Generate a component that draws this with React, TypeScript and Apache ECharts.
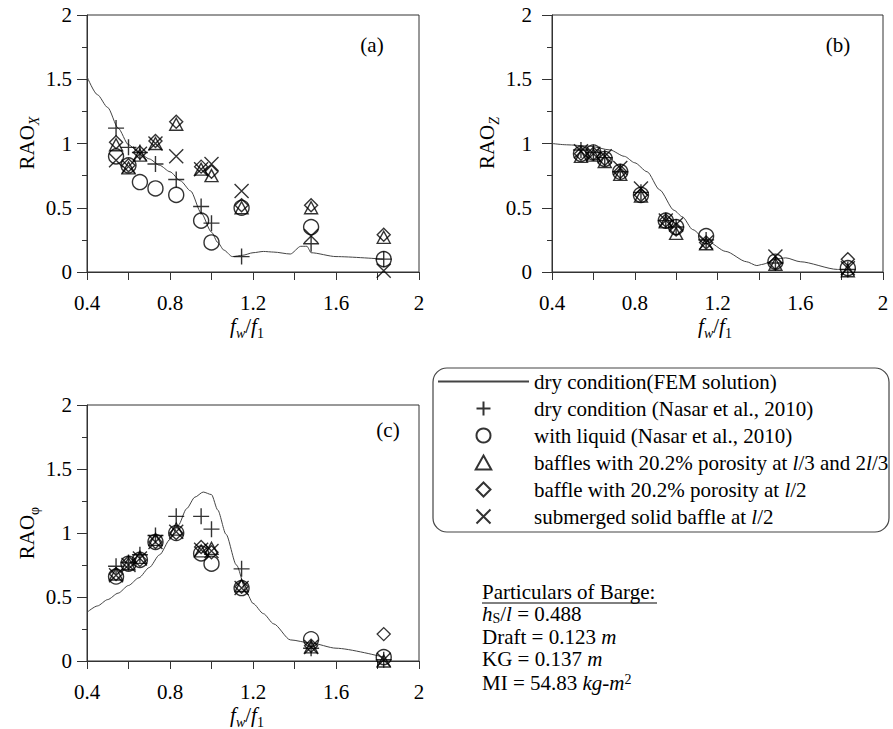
import React, { useEffect, useRef } from 'react';
import * as echarts from 'echarts';

const FONT = "'Liberation Serif', 'Times New Roman', Times, serif";

// ---------- data ----------
const seriesNames = [
  'dry condition(FEM solution)',
  'dry condition (Nasar et al., 2010)',
  'with liquid (Nasar et al., 2010)',
  'baffles with 20.2% porosity at l/3 and 2l/3',
  'baffle with 20.2% porosity at l/2',
  'submerged solid baffle at l/2',
];

const freqRatio = [0.54, 0.6, 0.655, 0.73, 0.83, 0.95, 1.0, 1.145, 1.48, 1.83];

// (a) RAO_X
const femAx = [0.4, 0.45, 0.5, 0.55, 0.6, 0.65, 0.7, 0.75, 0.8, 0.85, 0.9, 0.95, 1.0, 1.03, 1.06, 1.1, 1.15, 1.2, 1.25, 1.3, 1.38, 1.43, 1.46, 1.48, 1.6, 1.83];
const femAy = [1.52, 1.38, 1.28, 1.12, 0.99, 0.93, 0.88, 0.83, 0.78, 0.71, 0.63, 0.46, 0.31, 0.23, 0.17, 0.12, 0.13, 0.15, 0.16, 0.155, 0.14, 0.2, 0.2, 0.15, 0.12, 0.1];
const dryA = [1.12, 0.97, 0.93, 0.84, 0.72, 0.51, 0.38, 0.12, 0.22, 0.1];
const liquidA = [0.9, 0.83, 0.7, 0.65, 0.6, 0.4, 0.23, 0.5, 0.35, 0.1];
const bafflesA = [0.99, 0.81, 0.91, 1.0, 1.15, 0.8, 0.75, 0.5, 0.5, 0.27];
const baffleHalfA = [1.01, 0.83, 0.93, 1.02, 1.17, 0.82, 0.78, 0.52, 0.52, 0.29];
const submergedA = [0.87, 0.82, 0.92, 1.0, 0.9, 0.8, 0.84, 0.63, 0.28, 0.01];

// (b) RAO_Z
const femBx = [0.4, 0.47, 0.58, 0.68, 0.75, 0.8, 0.86, 0.92, 0.99, 1.03, 1.08, 1.15, 1.24, 1.34, 1.39, 1.42, 1.48, 1.53, 1.6, 1.78, 1.83];
const femBy = [1.0, 0.99, 0.98, 0.95, 0.9, 0.85, 0.78, 0.64, 0.48, 0.43, 0.33, 0.24, 0.16, 0.08, 0.05, 0.06, 0.1, 0.11, 0.08, 0.02, 0.02];
const dryB = [0.95, 0.93, 0.89, 0.78, 0.62, 0.4, 0.35, 0.25, 0.07, 0.02];
const liquidB = [0.92, 0.93, 0.88, 0.78, 0.6, 0.4, 0.35, 0.28, 0.08, 0.03];
const bafflesB = [0.9, 0.91, 0.86, 0.76, 0.59, 0.39, 0.3, 0.22, 0.06, 0.01];
const baffleHalfB = [0.92, 0.92, 0.88, 0.78, 0.6, 0.4, 0.33, 0.23, 0.07, 0.1];
const submergedB = [0.94, 0.92, 0.9, 0.81, 0.65, 0.4, 0.37, 0.23, 0.12, 0.03];

// (c) RAO_phi
const femCx = [0.4, 0.45, 0.5, 0.55, 0.6, 0.65, 0.7, 0.75, 0.8, 0.84, 0.88, 0.92, 0.96, 1.0, 1.03, 1.07, 1.12, 1.17, 1.2, 1.25, 1.3, 1.38, 1.48, 1.6, 1.83];
const femCy = [0.38, 0.43, 0.48, 0.53, 0.59, 0.65, 0.73, 0.83, 0.95, 1.06, 1.19, 1.28, 1.32, 1.3, 1.18, 0.99, 0.75, 0.53, 0.45, 0.37, 0.29, 0.165, 0.14, 0.1, 0.03];
const dryC = [0.74, 0.77, 0.83, 0.98, 1.13, 1.13, 1.03, 0.72, 0.1, 0.01];
const liquidC = [0.66, 0.76, 0.79, 0.93, 1.0, 0.84, 0.76, 0.57, 0.17, 0.03];
const bafflesC = [0.68, 0.76, 0.81, 0.95, 1.03, 0.86, 0.88, 0.59, 0.11, 0.0];
const baffleHalfC = [0.68, 0.77, 0.79, 0.93, 1.0, 0.89, 0.85, 0.58, 0.12, 0.21];
const submergedC = [0.67, 0.75, 0.8, 0.93, 1.01, 0.87, 0.86, 0.57, 0.11, 0.01];

const xTicks = [0.4, 0.8, 1.2, 1.6, 2];
const yTicks = [0, 0.5, 1, 1.5, 2];

// ---------- styling ----------
const SYM_PLUS = 'path://M0,5L10,5M5,0L5,10';
const SYM_CROSS = 'path://M0,0L10,10M0,10L10,0';
const SYM_TRI = 'path://M5,0L10,9L0,9Z';
const SYM_DIAMOND = 'path://M5,0L10,5L5,10L0,5Z';
const markerSpecs = [
  { symbol: SYM_PLUS, size: 16 },
  { symbol: 'circle', size: 15 },
  { symbol: SYM_TRI, size: [13, 12] },
  { symbol: SYM_DIAMOND, size: 13 },
  { symbol: SYM_CROSS, size: 14 },
];

const grids = [
  { left: 87, top: 15, width: 332, height: 257 },
  { left: 552, top: 15, width: 331, height: 257 },
  { left: 87, top: 405, width: 332, height: 256 },
];
const yLabelMargins = [15, 20, 15];

const panels = [
  { fem: [femAx, femAy], pts: [dryA, liquidA, bafflesA, baffleHalfA, submergedA] },
  { fem: [femBx, femBy], pts: [dryB, liquidB, bafflesB, baffleHalfB, submergedB] },
  { fem: [femCx, femCy], pts: [dryC, liquidC, bafflesC, baffleHalfC, submergedC] },
];

function makeRich(lh: number) {
  return {
    n: { fontFamily: FONT, fontSize: 21, lineHeight: lh, verticalAlign: 'middle', fill: '#000' },
    i: { fontFamily: FONT, fontSize: 21, lineHeight: lh, verticalAlign: 'middle', fontStyle: 'italic', fill: '#000' },
    s: { fontFamily: FONT, fontSize: 14, lineHeight: lh, verticalAlign: 'bottom', fill: '#000' },
    si: { fontFamily: FONT, fontSize: 14, lineHeight: lh, verticalAlign: 'bottom', fontStyle: 'italic', fill: '#000' },
    sup: { fontFamily: FONT, fontSize: 14, lineHeight: lh, verticalAlign: 'top', fill: '#000' },
  };
}

function buildOption() {
  const xAxis = grids.map((_, i) => ({
    type: 'value',
    gridIndex: i,
    min: xTicks[0],
    max: xTicks[xTicks.length - 1],
    interval: 0.4,
    axisLine: { show: true, onZero: false, lineStyle: { color: '#333', width: 1 } },
    axisTick: { show: true, inside: false, length: 8, lineStyle: { color: '#333' } },
    minorTick: { show: true, splitNumber: 2, length: 8, lineStyle: { color: '#333' } },
    splitLine: { show: false },
    axisLabel: {
      margin: 20,
      fontFamily: FONT,
      fontSize: 21,
      color: '#000',
      formatter: (v: number) => String(Math.round(v * 10) / 10),
    },
  }));
  const yAxis = grids.map((_, i) => ({
    type: 'value',
    gridIndex: i,
    min: yTicks[0],
    max: yTicks[yTicks.length - 1],
    interval: 0.5,
    axisLine: { show: true, onZero: false, lineStyle: { color: '#333', width: 1 } },
    axisTick: { show: true, inside: false, length: 10, lineStyle: { color: '#333' } },
    minorTick: { show: true, splitNumber: 2, length: 5, lineStyle: { color: '#333' } },
    splitLine: { show: false },
    axisLabel: {
      margin: yLabelMargins[i],
      fontFamily: FONT,
      fontSize: 21,
      color: '#000',
      formatter: (v: number) => String(v),
    },
  }));

  const series: any[] = [];
  panels.forEach((p, gi) => {
    series.push({
      name: seriesNames[0],
      type: 'line',
      xAxisIndex: gi,
      yAxisIndex: gi,
      data: p.fem[0].map((x, k) => [x, p.fem[1][k]]),
      symbol: 'none',
      smooth: 0.25,
      smoothMonotone: 'x',
      lineStyle: { color: '#444', width: 1 },
      itemStyle: { color: '#444' },
      z: 2,
    });
    p.pts.forEach((vals, si) => {
      series.push({
        name: seriesNames[si + 1],
        type: 'scatter',
        xAxisIndex: gi,
        yAxisIndex: gi,
        data: freqRatio.map((x, k) => [x, vals[k]]),
        symbol: markerSpecs[si].symbol,
        symbolSize: markerSpecs[si].size,
        itemStyle: { color: 'transparent', borderColor: '#000', borderWidth: 1.4 },
        z: 3,
      });
    });
  });

  const txt = (x: number, y: number, text: string, extra: any = {}) => ({
    type: 'text',
    x,
    y,
    rotation: extra.rotation || 0,
    style: {
      fontFamily: FONT,
      fill: '#000',
      text,
      rich: makeRich(extra.lh || 28),
      fontSize: 21,
      align: extra.align || 'center',
      verticalAlign: 'middle',
      textAlign: extra.align || 'center',
      textVerticalAlign: 'middle',
    },
    z: 10,
  });

  const graphic: any[] = [
    // y axis titles
    txt(27, 143, '{n|RAO}{si|X}', { rotation: Math.PI / 2 }),
    txt(487, 143, '{n|RAO}{si|Z}', { rotation: Math.PI / 2 }),
    txt(27, 533, '{n|RAO}{s|φ}', { rotation: Math.PI / 2 }),
    // x axis titles
    txt(247, 326, '{i|f}{si|w}{n|/}{i|f}{s|1}'),
    txt(715, 326, '{i|f}{si|w}{n|/}{i|f}{s|1}'),
    txt(247, 715, '{i|f}{si|w}{n|/}{i|f}{s|1}'),
    // panel labels
    txt(372, 45, '{n|(a)}'),
    txt(838, 45, '{n|(b)}'),
    txt(388, 430, '{n|(c)}'),
    // legend frame
    {
      type: 'rect',
      shape: { x: 433, y: 368, width: 456, height: 164, r: 14 },
      style: { fill: 'none', stroke: '#444', lineWidth: 1.2 },
      z: 1,
    },
    // particulars
    txt(482, 592, '{n|Particulars of Barge:}', { align: 'left', lh: 21 }),
    {
      type: 'line',
      shape: { x1: 482, y1: 603, x2: 657, y2: 603 },
      style: { stroke: '#000', lineWidth: 1 },
    },
    txt(482, 614, '{i|h}{s|S}{n|/}{i|l}{n| = 0.488}', { align: 'left', lh: 22 }),
    txt(482, 637, '{n|Draft = 0.123 }{i|m}', { align: 'left', lh: 21 }),
    txt(482, 659, '{n|KG = 0.137 }{i|m}', { align: 'left', lh: 21 }),
    txt(482, 683, '{n|MI = 54.83 }{i|kg-m}{sup|2}', { align: 'left', lh: 22 }),
  ];

  const legendData: any[] = seriesNames.map((name, k) =>
    k === 0
      ? { name, itemStyle: { color: 'transparent', borderColor: 'transparent', borderWidth: 0, opacity: 0 } }
      : { name }
  );

  return {
    animation: false,
    backgroundColor: '#fff',
    grid: grids.map((g) => ({ ...g, show: true, borderColor: '#333', borderWidth: 1, backgroundColor: 'transparent' })),
    xAxis,
    yAxis,
    legend: {
      show: true,
      orient: 'vertical',
      left: 437,
      top: 371,
      padding: 0,
      itemGap: 6,
      itemWidth: 91,
      itemHeight: 14,
      selectedMode: false,
      data: legendData,
      textStyle: {
        fontFamily: FONT,
        fontSize: 21,
        lineHeight: 21,
        color: '#000',
        rich: {
          i: { fontFamily: FONT, fontSize: 21, lineHeight: 21, fontStyle: 'italic', color: '#000' },
        },
      },
      formatter: (name: string) => name.replace(/l\//g, '{i|l}/'),
    },
    series,
    graphic,
  };
}

export default function App() {
  const ref = useRef<HTMLDivElement>(null);
  useEffect(() => {
    if (!ref.current) return;
    const chart = echarts.init(ref.current, null, { renderer: 'svg' });
    chart.setOption(buildOption() as any);
    return () => chart.dispose();
  }, []);
  return (
    <div
      ref={ref}
      style={{ position: 'fixed', left: 0, top: 0, width: 893, height: 729, background: '#fff' }}
    />
  );
}
